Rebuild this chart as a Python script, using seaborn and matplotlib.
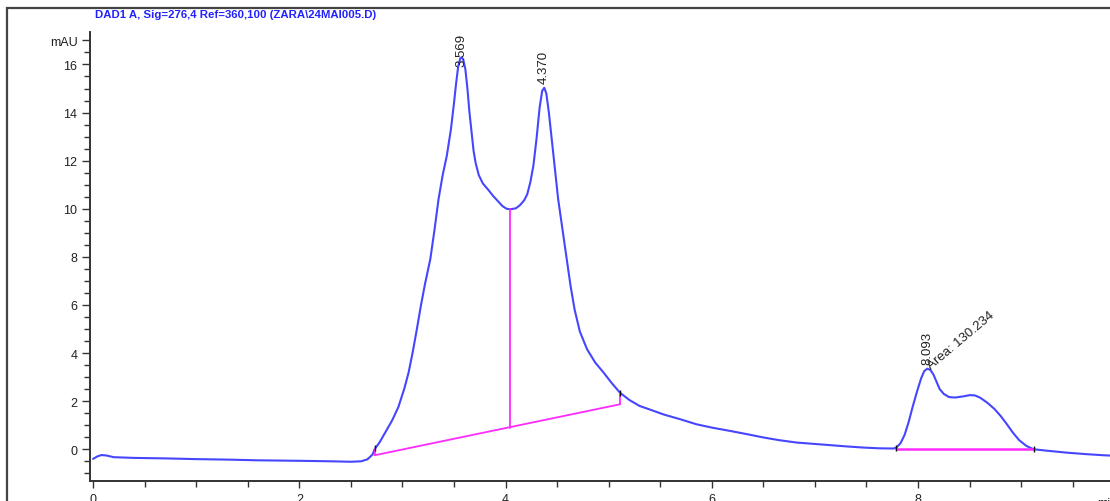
import matplotlib
matplotlib.use("Agg")

import matplotlib.pyplot as plt
import matplotlib.patches as mpatches
import matplotlib.transforms as mtransforms
import seaborn as sns
import pandas as pd
from matplotlib.ticker import MultipleLocator

# chromatogram trace (time in min, signal in mAU)
time_min = [0.00, 0.04, 0.08, 0.13, 0.20, 0.40, 0.70, 1.00, 1.30, 1.60, 2.00,
            2.30, 2.50, 2.60, 2.66, 2.71, 2.73, 2.78, 2.84, 2.90, 2.96, 3.02,
            3.06, 3.10, 3.14, 3.18, 3.22, 3.27, 3.31, 3.35, 3.39, 3.43, 3.47,
            3.50, 3.52, 3.54, 3.56, 3.575, 3.59, 3.61, 3.63, 3.65, 3.67, 3.69,
            3.71, 3.74, 3.78, 3.83, 3.88, 3.93, 3.97, 4.01, 4.05, 4.10, 4.14,
            4.18, 4.21, 4.24, 4.27, 4.30, 4.33, 4.355, 4.375, 4.395, 4.42,
            4.45, 4.48, 4.51, 4.55, 4.59, 4.63, 4.67, 4.72, 4.79, 4.87, 4.95,
            5.03, 5.11, 5.20, 5.30, 5.42, 5.53, 5.70, 5.85, 6.00, 6.18, 6.35,
            6.50, 6.65, 6.82, 7.00, 7.15, 7.30, 7.47, 7.62, 7.76, 7.79, 7.83,
            7.87, 7.91, 7.95, 7.99, 8.03, 8.06, 8.09, 8.12, 8.15, 8.18, 8.21,
            8.25, 8.30, 8.36, 8.44, 8.50, 8.55, 8.60, 8.67, 8.74, 8.80, 8.86,
            8.92, 8.98, 9.05, 9.12, 9.25, 9.44, 9.62, 9.80, 9.95]
signal_mau = [-0.40, -0.30, -0.24, -0.26, -0.33, -0.36, -0.38, -0.41, -0.43,
              -0.46, -0.48, -0.50, -0.52, -0.50, -0.42, -0.22, 0.00, 0.30,
              0.75, 1.20, 1.75, 2.55, 3.20, 4.05, 5.00, 6.00, 6.90, 7.90, 9.10,
              10.40, 11.40, 12.20, 13.30, 14.40, 15.20, 15.90, 16.25, 16.30,
              16.20, 15.80, 15.00, 14.00, 13.20, 12.40, 11.90, 11.40, 11.05,
              10.80, 10.53, 10.30, 10.11, 10.00, 9.98, 10.02, 10.15, 10.35,
              10.60, 11.10, 11.80, 12.90, 14.20, 14.90, 15.03, 14.80, 14.00,
              12.80, 11.60, 10.40, 9.20, 8.00, 6.80, 5.80, 4.90, 4.16, 3.60,
              3.19, 2.75, 2.35, 2.05, 1.80, 1.62, 1.45, 1.24, 1.04, 0.90, 0.76,
              0.62, 0.49, 0.38, 0.28, 0.22, 0.17, 0.12, 0.07, 0.04, 0.03, 0.07,
              0.25, 0.60, 1.15, 1.80, 2.40, 2.95, 3.25, 3.35, 3.30, 3.10, 2.80,
              2.50, 2.30, 2.17, 2.15, 2.20, 2.25, 2.24, 2.15, 1.94, 1.68, 1.39,
              1.05, 0.69, 0.38, 0.14, 0.00, -0.06, -0.14, -0.20, -0.25, -0.28]

# integration baselines
base1_t = [2.73, 5.11]
base1_y = [-0.25, 1.87]
drop_t = [4.04, 4.04]
drop_y = [0.90, 9.98]
base2_t = [7.79, 9.12]
base2_y = [0.03, 0.03]

# peak labels
peak_rt = [3.569, 4.370, 8.093]
peak_label_y = [15.95, 15.25, 3.55]
area_label = "Area: 130.234"

title = r"DAD1 A, Sig=276,4 Ref=360,100 (ZARA\24MAI005.D)"

sns.set_theme(style="white")
plt.rcParams["font.family"] = ["Liberation Sans", "DejaVu Sans"]

BLUE = "#4646ff"
PINK = "#ff2bff"
AXC = "#333333"

fig = plt.figure(figsize=(11.1, 5.02), dpi=100)
ax = fig.add_axes([90 / 1110, 20 / 502, 1025 / 1110, 449 / 502])

df = pd.DataFrame({"t": time_min, "s": signal_mau})
sns.lineplot(data=df, x="t", y="s", ax=ax, color=BLUE, lw=1.5, sort=False)

ax.plot(base1_t, base1_y, color=PINK, lw=1.3)
ax.plot([base1_t[0], base1_t[0]], [base1_y[0], 0.0], color=PINK, lw=1.3)
ax.plot([base1_t[1], base1_t[1]], [base1_y[1], 2.3], color=PINK, lw=1.3)
ax.plot(drop_t, drop_y, color=PINK, lw=1.3)
ax.plot(base2_t, base2_y, color=PINK, lw=1.8)
# integration tick marks
ax.plot([2.73, 5.11, 7.79, 9.12], [0.05, 2.35, 0.07, 0.0], ls="none",
        marker="|", ms=5, color="#111111", mew=1.0)

for rt, ly in zip(peak_rt, peak_label_y):
    ax.text(rt, ly, f"{rt:.3f}", rotation=90, ha="center", va="bottom",
            fontsize=9.5, color="#222222")
ax.text(8.14, 3.25, area_label, rotation=40, rotation_mode="anchor",
        ha="left", va="bottom", fontsize=9.5, color="#222222")

ax.set_xlim(-0.03, 9.91)
ax.set_ylim(-1.32, 17.35)
ax.set_xlabel("")
ax.set_ylabel("")

ax.set_yticks([0, 2, 4, 6, 8, 10, 12, 14, 16, 17])
ax.set_yticklabels(["0", "2", "4", "6", "8", "10", "12", "14", "16", "mAU"])
ax.set_xticks([0, 2, 4, 6, 8])
ax.yaxis.set_minor_locator(MultipleLocator(0.5))
ax.xaxis.set_minor_locator(MultipleLocator(0.5))
ax.tick_params(axis="both", which="major", direction="out", length=6,
               width=1.0, color=AXC, labelsize=9, labelcolor="#222222")
ax.tick_params(axis="y", which="major", pad=3)
ax.tick_params(axis="x", which="major", pad=4, length=5)
ax.tick_params(axis="both", which="minor", direction="out", length=4,
               width=1.0, color=AXC)
ax.tick_params(left=True, bottom=True, which="both")

for side in ["top", "right"]:
    ax.spines[side].set_visible(False)
for side in ["left", "bottom"]:
    ax.spines[side].set_color(AXC)
    ax.spines[side].set_linewidth(1.4)

trans = mtransforms.blended_transform_factory(ax.transData, ax.transAxes)
ax.text(9.74, -0.035, "min", transform=trans, ha="left", va="top",
        fontsize=9, color="#222222")

fig.text(95 / 1110, 1 - 15 / 502, title, ha="left", va="center",
         fontsize=8.2, color="#2222ff", fontweight="bold")

frame = mpatches.Rectangle((7 / 1110, -0.1), 1.2, 1.1 - 9 / 502,
                           transform=fig.transFigure, fill=False,
                           edgecolor="#444444", lw=1.6)
fig.patches.append(frame)

fig.savefig("out.png", dpi=100)
